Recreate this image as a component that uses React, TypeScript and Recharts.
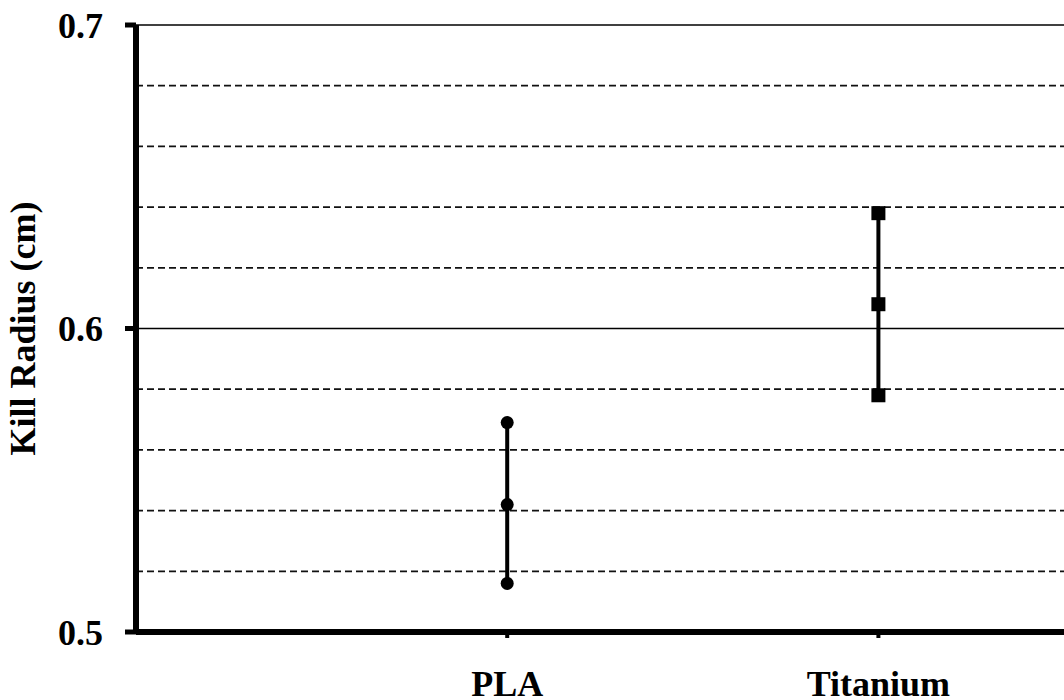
import React from 'react';
import { ScatterChart, Scatter, XAxis, YAxis, ReferenceLine } from 'recharts';

const materials = ['PLA', 'Titanium'];
const materialPos = [1, 2];
const lowValues = [0.516, 0.578];
const meanValues = [0.542, 0.608];
const highValues = [0.569, 0.638];

const yTicks = [0.5, 0.6, 0.7];
const majorGrid = [0.6, 0.7];
const minorGrid = [0.52, 0.54, 0.56, 0.58, 0.62, 0.64, 0.66, 0.68];

const serif = '"Liberation Serif", "Times New Roman", serif';
const tickStyle = { fill: '#000', fontSize: 36, fontWeight: 'bold', fontFamily: serif };

// one vertical low-mean-high series per material
const seriesFor = (i: number) => [
  { x: materialPos[i], y: lowValues[i] },
  { x: materialPos[i], y: meanValues[i] },
  { x: materialPos[i], y: highValues[i] },
];

const Dot = (props: any) => <circle cx={props.cx} cy={props.cy} r={6.5} fill="#000" />;
const Square = (props: any) => (
  <rect x={props.cx - 7} y={props.cy - 7} width={14} height={14} fill="#000" />
);

const App: React.FC = () => {
  return (
    <div style={{ position: 'absolute', left: 0, top: 0, width: 1064, height: 700, background: '#fff' }}>
      <ScatterChart width={1064} height={700} margin={{ top: 25, right: 0, left: 0, bottom: 0 }}>
        {minorGrid.map((v) => (
          <ReferenceLine key={v} y={v} stroke="#111" strokeWidth={1.8} strokeDasharray="7 4" />
        ))}
        {majorGrid.map((v) => (
          <ReferenceLine key={v} y={v} stroke="#000" strokeWidth={1.6} />
        ))}
        <XAxis
          type="number"
          dataKey="x"
          domain={[0, 2.5]}
          ticks={materialPos}
          tickFormatter={(v: number) => materials[materialPos.indexOf(v)] ?? ''}
          height={68}
          axisLine={{ stroke: '#000', strokeWidth: 6 }}
          tickLine={{ stroke: '#000', strokeWidth: 4 }}
          tickSize={6}
          tickMargin={32}
          tick={tickStyle}
          allowDataOverflow
        />
        <YAxis
          type="number"
          dataKey="y"
          domain={[0.5, 0.7]}
          ticks={yTicks}
          tickFormatter={(v: number) => v.toFixed(1)}
          width={136}
          axisLine={{ stroke: '#000', strokeWidth: 6 }}
          tickLine={{ stroke: '#000', strokeWidth: 5 }}
          tickSize={11}
          tickMargin={22}
          tick={tickStyle}
          label={{
            value: 'Kill Radius (cm)',
            angle: -90,
            position: 'insideLeft',
            offset: 22,
            style: { textAnchor: 'middle', fill: '#000', fontSize: 36, fontWeight: 'bold', fontFamily: serif },
          }}
        />
        <Scatter
          data={seriesFor(0)}
          line={{ stroke: '#000', strokeWidth: 4 }}
          shape={Dot}
          isAnimationActive={false}
        />
        <Scatter
          data={seriesFor(1)}
          line={{ stroke: '#000', strokeWidth: 4 }}
          shape={Square}
          isAnimationActive={false}
        />
      </ScatterChart>
    </div>
  );
};

export default App;
